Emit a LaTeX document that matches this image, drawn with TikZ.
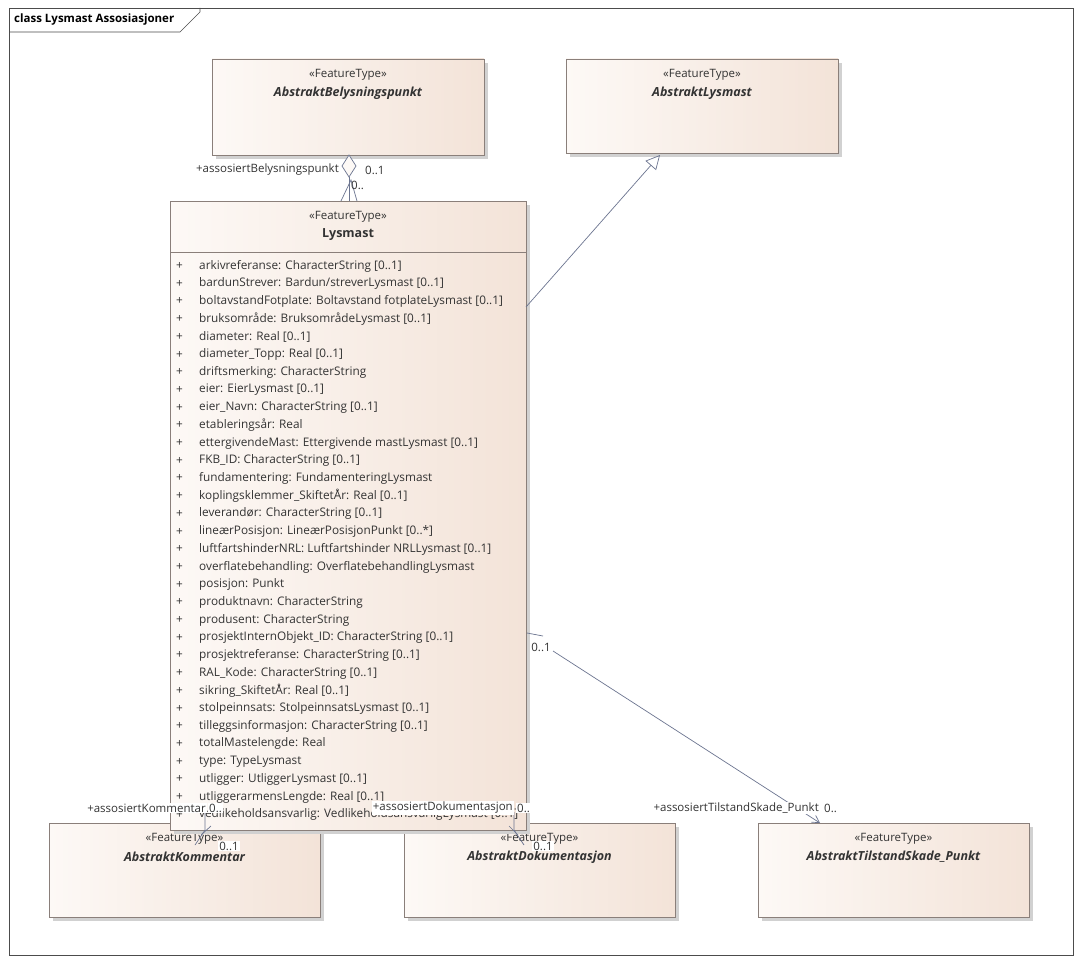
\documentclass[tikz,border=0pt]{standalone}
\usepackage{fontspec}
\setmainfont{Open Sans}
\usetikzlibrary{arrows.meta}
\definecolor{boxr}{HTML}{F3E3D8}
\definecolor{boxl}{HTML}{FDF9F6}
\definecolor{edge}{HTML}{8A7F7A}
\definecolor{conn}{HTML}{6C7590}
\definecolor{txt}{HTML}{333333}
\tikzset{x=1pt,y=-1pt,
 cls/.style={draw=edge,line width=0.8pt,left color=boxl,right color=boxr,shading angle=90},
 shadow/.style={fill=black!18,draw=none},
 lbl/.style={font=\fontsize{11.5}{13}\selectfont,text=txt,inner sep=1pt},
 attr/.style={font=\fontsize{11.8}{13}\selectfont,text=txt,anchor=west,inner sep=0pt},
 st/.style={font=\fontsize{11.5}{13}\selectfont,text=txt},
 nm/.style={font=\fontsize{12.5}{14}\selectfont\bfseries\itshape,text=txt},
 cn/.style={draw=conn,line width=0.7pt}}
\newcommand{\umlbox}[7]{% name x1 y1 x2 y2 title style
 \fill[shadow] (#2+4,#3+4) rectangle (#4+4,#5+4);
 \path[cls] (#2,#3) rectangle (#4,#5);
 \coordinate (#1) at ({(#2+#4)/2},#3);
 \node[st] (#1s) at ({(#2+#4)/2},#3+16) {«FeatureType»};
 \node[#7] (#1n) at ({(#2+#4)/2},#3+34) {#6};}
\begin{document}
\begin{tikzpicture}
\useasboundingbox (0,0) rectangle (1082,963);
\fill[white] (0,0) rectangle (1082,963);
\draw[black!70,line width=0.6pt] (9,8) rectangle (1073,955);
\draw[black!70,line width=0.6pt] (9,32) -- (180,32) -- (200,12) -- (200,8);
\node[font=\fontsize{11.5}{13}\selectfont\bfseries,anchor=west,inner sep=0pt] (title) at (14,20) {class Lysmast Assosiasjoner};
\umlbox{bel}{212}{59}{484}{155}{AbstraktBelysningspunkt}{nm}
\umlbox{lmast}{566}{59}{838}{153}{AbstraktLysmast}{nm}
\umlbox{kom}{49}{823}{320}{917}{AbstraktKommentar}{nm}
\umlbox{dok}{404}{823}{675}{917}{AbstraktDokumentasjon}{nm}
\umlbox{til}{758}{823}{1029}{917}{AbstraktTilstandSkade\_Punkt}{nm}
% Lysmast
\fill[shadow] (174,205) rectangle (530,834);
\path[cls] (170,201) rectangle (526,830);
\draw[edge,line width=0.8pt] (170,252) -- (526,252);
\node[st] (lys) at (348,217) {«FeatureType»};
\node[st,font=\fontsize{12.5}{14}\selectfont\bfseries] (lysn) at (348,235) {Lysmast};
\foreach \t [count=\i from 0] in {
arkivreferanse: CharacterString [0..1],
bardunStrever: Bardun/streverLysmast [0..1],
boltavstandFotplate: Boltavstand fotplateLysmast [0..1],
bruksområde: BruksområdeLysmast [0..1],
diameter: Real [0..1],
diameter\_Topp: Real [0..1],
driftsmerking: CharacterString,
eier: EierLysmast [0..1],
eier\_Navn: CharacterString [0..1],
etableringsår: Real,
ettergivendeMast: Ettergivende mastLysmast [0..1],
FKB\_ID: CharacterString [0..1],
fundamentering: FundamenteringLysmast,
koplingsklemmer\_SkiftetÅr: Real [0..1],
leverandør: CharacterString [0..1],
lineærPosisjon: LineærPosisjonPunkt [0..*],
luftfartshinderNRL: Luftfartshinder NRLLysmast [0..1],
overflatebehandling: OverflatebehandlingLysmast,
posisjon: Punkt,
produktnavn: CharacterString,
produsent: CharacterString,
prosjektInternObjekt\_ID: CharacterString [0..1],
prosjektreferanse: CharacterString [0..1],
RAL\_Kode: CharacterString [0..1],
sikring\_SkiftetÅr: Real [0..1],
stolpeinnsats: StolpeinnsatsLysmast [0..1],
tilleggsinformasjon: CharacterString [0..1],
totalMastelengde: Real,
type: TypeLysmast,
utligger: UtliggerLysmast [0..1],
utliggerarmensLengde: Real [0..1],
vedlikeholdsansvarlig: VedlikeholdsansvarligLysmast [0..1]} {
 \node[attr] at (176,{266+17.7*\i}) {+};
 \node[attr] at (199,{266+17.7*\i}) {\t};
}
% aggregation
\coordinate (dtop) at (349,155);
\coordinate (lystop) at (349,201);
\draw[cn,fill=boxl] (dtop) -- (356,166) -- (349,177) -- (342,166) -- cycle;
\draw[cn] (349,177) -- (lystop);
\draw[cn] (341,201) -- (351,180) -- (357,201);
\node[lbl,anchor=east] (l1) at (340,170) {+assosiertBelysningspunkt};
\node[lbl,anchor=west] (l2) at (364,170) {0..1};
\node[lbl,anchor=west] (l3) at (350,185) {0..};
% generalization
\coordinate (gs) at (526,307);
\coordinate (gt) at (660,155);
\draw[cn,-{Triangle[open,length=14pt,width=14pt]}] (gs) -- (gt);
% tilstand
\coordinate (ts) at (527,633);
\coordinate (te) at (820,823);
\draw[cn] (ts) -- ++(16,3);
\draw[cn,-{Straight Barb[length=7pt,width=8pt]}] (553,651) -- (te);
\node[lbl,fill=white] (t1) at (541,647) {0..1};
\node[lbl,anchor=east,fill=white] (t2) at (820,808) {+assosiertTilstandSkade\_Punkt};
\node[lbl,anchor=west,fill=white] (t3) at (823,808) {0..};
% kommentar
\coordinate (ka) at (205,812);
\coordinate (kb) at (195,845);
\draw[cn] (ka) -- (205,830) -- (kb);
\draw[cn] (201,835) -- (211,826);
\node[lbl,anchor=east,fill=white] (k1) at (207,808) {+assosiertKommentar};
\node[lbl,anchor=west,fill=white] (k2) at (208,808) {0..};
\node[lbl,fill=white] (k3) at (229,846) {0..1};
% dokumentasjon
\coordinate (da) at (514,812);
\coordinate (db) at (524,845);
\draw[cn] (da) -- (514,830) -- (db);
\draw[cn] (509,826) -- (518,835);
\node[lbl,anchor=east,fill=white] (d1) at (514,808) {+assosiertDokumentasjon};
\node[lbl,anchor=west,fill=white] (d2) at (516,808) {0..};
\node[lbl,fill=white] (d3) at (543,846) {0..1};
\end{tikzpicture}
\end{document}
